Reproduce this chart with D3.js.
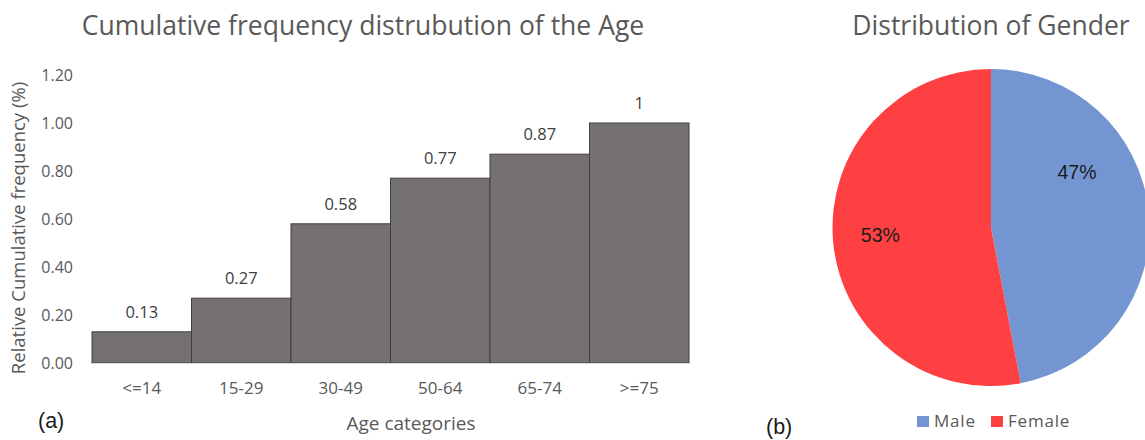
<!DOCTYPE html>
<html>
<head>
<meta charset="utf-8">
<script src="https://cdn.jsdelivr.net/npm/d3@7"></script>
<style>
  html, body { margin: 0; padding: 0; background: #fff; }
  svg { display: block; }
  text { font-family: "Open Sans", "DejaVu Sans", sans-serif; }
  text.arial { font-family: "Liberation Sans", Arial, sans-serif; }
</style>
</head>
<body>
<svg id="chart" width="1145" height="440"></svg>
<script>
// Cumulative age distribution
const ageCategories = ["<=14", "15-29", "30-49", "50-64", "65-74", ">=75"];
const cumulativeFreq = [0.13, 0.27, 0.58, 0.77, 0.87, 1];
const cumulativeLabels = ["0.13", "0.27", "0.58", "0.77", "0.87", "1"];
const yTicks = [0, 0.2, 0.4, 0.6, 0.8, 1.0, 1.2];

// Gender split
const genders = ["Male", "Female"];
const genderShare = [47, 53];
const genderColors = ["#7396D3", "#FF4043"];

const svg = d3.select("#chart");
const GREY = "#595959";

// ---------- Panel (a): bar chart ----------
const x = d3.scaleBand().domain(ageCategories).range([92, 689]).paddingInner(0).paddingOuter(0);
const y = d3.scaleLinear().domain([0, 1.2]).range([363, 75]);

const a = svg.append("g");

a.append("text")
  .attr("x", 363).attr("y", 35)
  .attr("text-anchor", "middle")
  .attr("font-size", 26.5)
  .attr("fill", GREY)
  .text("Cumulative frequency distrubution of the Age");

// y axis (labels only)
const yAxis = d3.axisLeft(y).tickValues(yTicks).tickFormat(d3.format(".2f")).tickSize(0).tickPadding(0);
const yg = a.append("g").attr("transform", "translate(73,0)").call(yAxis);
yg.select(".domain").remove();
yg.selectAll("text").attr("font-size", 16).attr("fill", GREY)
  .style("font-family", "\"Open Sans\", sans-serif");

// bars
a.append("g").selectAll("rect")
  .data(cumulativeFreq)
  .join("rect")
  .attr("x", (d, i) => x(ageCategories[i]))
  .attr("y", d => y(d))
  .attr("width", x.bandwidth())
  .attr("height", d => y(0) - y(d))
  .attr("fill", "#757170")
  .attr("stroke", "#3f3f3f")
  .attr("stroke-width", 1);

// baseline
a.append("line")
  .attr("x1", 92).attr("x2", 689)
  .attr("y1", y(0) + 0.5).attr("y2", y(0) + 0.5)
  .attr("stroke", "#d9d9d9").attr("stroke-width", 1);

// value labels
a.append("g").selectAll("text")
  .data(cumulativeFreq)
  .join("text")
  .attr("x", (d, i) => x(ageCategories[i]) + x.bandwidth() / 2)
  .attr("y", d => y(d) - 14)
  .attr("text-anchor", "middle")
  .attr("font-size", 16.5)
  .attr("fill", "#404040")
  .text((d, i) => cumulativeLabels[i]);

// x axis (labels only)
const xAxis = d3.axisBottom(x).tickSize(0).tickPadding(0);
const xg = a.append("g").attr("transform", "translate(0,382)").call(xAxis);
xg.select(".domain").remove();
xg.selectAll("text").attr("font-size", 17).attr("fill", GREY)
  .style("font-family", "\"Open Sans\", sans-serif");

a.append("text")
  .attr("x", 411).attr("y", 430)
  .attr("text-anchor", "middle")
  .attr("font-size", 19)
  .attr("fill", GREY)
  .text("Age categories");

a.append("text")
  .attr("transform", "translate(25,228) rotate(-90)")
  .attr("text-anchor", "middle")
  .attr("font-size", 18.5)
  .attr("fill", GREY)
  .text("Relative Cumulative frequency (%)");

a.append("text")
  .attr("class", "arial")
  .attr("x", 38).attr("y", 428)
  .attr("font-size", 21.5)
  .attr("fill", "#1a1a1a")
  .text("(a)");

// ---------- Panel (b): pie chart ----------
const b = svg.append("g");

b.append("text")
  .attr("x", 991).attr("y", 35)
  .attr("text-anchor", "middle")
  .attr("font-size", 26.5)
  .attr("fill", GREY)
  .text("Distribution of Gender");

const cx = 991, cy = 227.5, r = 158.5;
const pie = d3.pie().sort(null).value(d => d)(genderShare);
const arc = d3.arc().innerRadius(0).outerRadius(r);

const pg = b.append("g").attr("transform", `translate(${cx},${cy})`);
pg.selectAll("path")
  .data(pie)
  .join("path")
  .attr("d", arc)
  .attr("fill", (d, i) => genderColors[i]);

// Data-label placement: angle (fraction of the turn from 12 o'clock) and radius ratio
const labelPlace = [[0.159, 0.645], [0.739, 0.70]];
pg.selectAll("text")
  .data(pie)
  .join("text")
  .attr("class", "arial")
  .attr("transform", (d, i) => {
    const t = labelPlace[i][0] * 2 * Math.PI, rr = labelPlace[i][1] * r;
    return `translate(${rr * Math.sin(t)},${-rr * Math.cos(t)})`;
  })
  .attr("text-anchor", "middle")
  .attr("dy", "0.35em")
  .attr("font-size", 19.5)
  .attr("fill", "#1a1a1a")
  .text(d => d.data + "%");

// legend
const legendX = [917, 991];
const lg = b.append("g");
genders.forEach((g, i) => {
  lg.append("rect")
    .attr("x", legendX[i]).attr("y", 416)
    .attr("width", 12).attr("height", 11)
    .attr("fill", genderColors[i]);
  lg.append("text")
    .attr("x", legendX[i] + 17).attr("y", 427)
    .attr("font-size", 17)
    .attr("letter-spacing", 0.8)
    .attr("fill", GREY)
    .text(g);
});

b.append("text")
  .attr("class", "arial")
  .attr("x", 766).attr("y", 434)
  .attr("font-size", 21.5)
  .attr("fill", "#1a1a1a")
  .text("(b)");
</script>
</body>
</html>
